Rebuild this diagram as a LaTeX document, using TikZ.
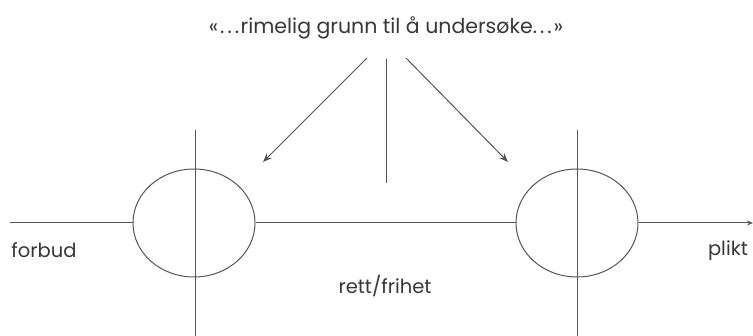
\documentclass[tikz,border=0pt]{standalone}
\usepackage{fontspec}
\setmainfont{Poppins}
\usetikzlibrary{arrows.meta,shapes.geometric}
\definecolor{ink}{RGB}{85,85,85}
\definecolor{txt}{RGB}{55,55,55}
\newcommand{\dotsx}{.\kern3pt.\kern3pt.}
\begin{document}
\begin{tikzpicture}[x=1pt,y=-1pt,
  line/.style={draw=ink,line width=1pt},
  arr/.style={line,-{Stealth[length=9pt,width=7pt]}},
  lbl/.style={text=txt,font=\fontsize{19.5}{22}\selectfont,inner sep=0pt},
  circ/.style={draw=ink,line width=1pt,ellipse,minimum width=122pt,minimum height=108pt,inner sep=0pt}]
\useasboundingbox (0,0) rectangle (753,336);
% circles
\node[circ] (L) at (194,223) {};
\node[circ] (R) at (577,223) {};
% coordinates
\coordinate (start) at (10,223);
\coordinate (end) at (753,223);
\coordinate (Lt) at (195,130);
\coordinate (Lb) at (195,336);
\coordinate (Rt) at (577,130);
\coordinate (Rb) at (577,336);
\coordinate (Mt) at (386,59);
\coordinate (Mb) at (386,183);
\coordinate (A1s) at (367,58);
\coordinate (A1e) at (263,162);
\coordinate (A2s) at (406,58);
\coordinate (A2e) at (508,162);
% lines
\draw[line] (start) -- (L.west);
\draw[line] (L.east) -- (R.west);
\draw[line,-{Stealth[length=6pt,width=5pt]}] (R.east) -- (end);
\draw[line] (Lt) -- (Lb);
\draw[line] (Rt) -- (Rb);
\draw[line] (Mt) -- (Mb);
\draw[arr] (A1s) -- (A1e);
\draw[arr] (A2s) -- (A2e);
% labels
\node[lbl,font=\fontsize{20.5}{23}\selectfont] (title) at (386,28) {«\kern2pt\dotsx\kern1.5pt rimelig grunn til å undersøke\dotsx\kern2pt»};
\node[lbl] (forbud) at (44,250) {forbud};
\node[lbl] (plikt) at (728,251) {plikt};
\node[lbl] (rett) at (385,286) {rett/frihet};
\end{tikzpicture}
\end{document}
